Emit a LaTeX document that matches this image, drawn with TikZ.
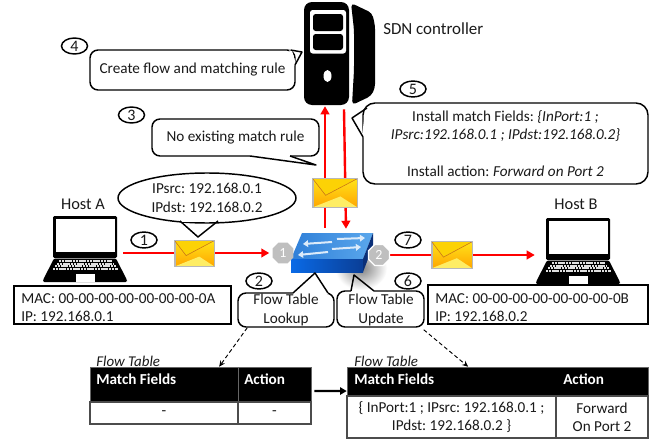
\documentclass[tikz,border=0pt]{standalone}
\usepackage{fontspec}
\setmainfont{Carlito}
\usetikzlibrary{arrows.meta,shapes.geometric,fit,calc,shadings}
\pgfdeclarelayer{bg}
\pgfsetlayers{bg,main}
\definecolor{txt}{HTML}{1A1A1A}
\definecolor{redl}{HTML}{FF0000}
\tikzset{
  base/.style={font=\fontsize{11.4}{13.75}\selectfont,text=txt,inner sep=0pt},
  lab/.style={base,align=center},
  boxn/.style={base,draw=black,line width=1.1pt,fill=white},
  bubble/.style={boxn,rounded corners=6pt},
  stepno/.style={base,font=\fontsize{12}{14}\selectfont,draw=black,line width=1.1pt,ellipse,fill=white,minimum width=19.5pt,minimum height=12pt},
  redarrow/.style={draw=redl,line width=1.8pt,-{Triangle[length=6pt,width=6.5pt]}},
  dashedarrow/.style={draw=black,line width=.7pt,densely dashed,-{Stealth[length=4.5pt,width=4pt]}},
  portn/.style={regular polygon,regular polygon sides=8,minimum size=17pt,inner sep=0pt,fill=black!25,text=white,font=\fontsize{10.5}{12}\selectfont},
  envn/.style={draw=black!28,line width=.5pt,top color=yellow!75!orange!90,bottom color=orange!70!yellow,inner sep=0pt},
  cellhead/.style={fill=black,draw=black!60,line width=.6pt,inner sep=0pt},
  cellbody/.style={fill=white,draw=black!70,line width=.8pt,inner sep=0pt},
  headtext/.style={base,text=white,font=\fontsize{11.4}{13}\selectfont\bfseries},
  tabletitle/.style={base,font=\fontsize{11.2}{13}\selectfont\itshape},
  swarrow/.style={draw=swwhite,line width=1.5pt,-{Triangle[length=3.8pt,width=5pt]}}
}
\definecolor{swwhite}{HTML}{DCEBFA}
\definecolor{swTopA}{HTML}{2F7FD8}
\definecolor{swTopB}{HTML}{5AA7EC}
\definecolor{swFrontA}{HTML}{0A6AE6}
\definecolor{swFrontB}{HTML}{0A3E96}
\definecolor{swSide}{HTML}{0A2F78}
\newcommand{\tailshape}[3]{%
  \draw[white,line width=1.9pt] (#1)--(#3);
  \draw[black,line width=1.1pt,line join=round] (#1)--(#2)--(#3);}
\newcommand{\laptop}[2]{%
  \begin{scope}[shift={(#1,#2)}]
    \fill[black,rounded corners=1pt] (53,216) rectangle (117,258);
    \fill[white] (56,218.5) rectangle (115,251.5);
    \fill[black,rounded corners=1pt] (54,258.5)--(116,258.5)--(127,280)--(127,282)--(43,282)--(43,280)--cycle;
    \foreach \yy/\xa/\xb in {261/59/112,263.7/57/114,266.4/55/116,269.1/53/118}
      \draw[black!12,line width=1.4pt,dash pattern=on 1.6pt off .5pt] (\xa,\yy)--(\xb,\yy);
    \fill[white] (76,273.5) rectangle (95,281.5);
  \end{scope}}
\newcommand{\envflaps}[1]{%
  \fill[yellow!85!orange!60] (#1.south west)--($(#1.north west)!.62!(#1.south east)$)--(#1.south east)--cycle;
  \fill[yellow!70!orange] (#1.north west)--($(#1.north west)!.58!(#1.south)$)--(#1.north east)--cycle;
  \draw[orange!75!black!90,line width=.4pt] (#1.north west)--($(#1.north west)!.58!(#1.south)$)--(#1.north east);
  \draw[black!28,line width=.5pt] (#1.north west) rectangle (#1.south east);}
\begin{document}
\frenchspacing
\begin{tikzpicture}[x=.75pt,y=-.75pt]
\useasboundingbox (0,0) rectangle (662,439);
\begin{pgfonlayer}{bg}
  \fill[white] (0,0) rectangle (662,439);
\end{pgfonlayer}

% ---- SDN controller
\node[fit={(304,2)(375,105)},inner sep=0pt] (server) {};
\fill[black,rounded corners=3pt] (351,3)--(372,13)--(375,25)--(375,88)--(371,96)--(352,105)--(354,70)--(354,30)--cycle;
\fill[black,rounded corners=6pt] (304,2) rectangle (349,105);
\fill[white,rounded corners=2pt] (310,10) rectangle (346,53.5);
\fill[black,rounded corners=2pt] (313,14) rectangle (343,31);
\fill[black,rounded corners=2pt] (313,34) rectangle (343,50);
\fill[white] (327.5,76) ellipse [x radius=4,y radius=6];
\node[base,anchor=base west,font=\fontsize{12.7}{14}\selectfont] (sdn) at (383,34) {SDN controller};

% ---- hosts
\node[fit={(43,216)(123,282)},inner sep=0pt] (hostA) {};
\laptop{0}{0}
\node[fit={(535,218)(619,284)},inner sep=0pt] (hostB) {};
\laptop{493}{2}
\node[base,font=\fontsize{12.3}{14}\selectfont] (hostAlab) at (83,204) {Host A};
\node[base,font=\fontsize{12.3}{14}\selectfont] (hostBlab) at (576,204) {Host B};

\node[boxn,fit={(14,286)(231,324)}] (macA) {};
\node[lab,anchor=west,align=left] (macAtxt) at (21,307.5) {MAC: 00-00-00-00-00-00-00-0A\\IP: 192.168.0.1};
\node[boxn,fit={(428,285)(648,324)}] (macB) {};
\node[lab,anchor=west,align=left] (macBtxt) at (435,307.5) {MAC: 00-00-00-00-00-00-00-0B\\IP: 192.168.0.2};

% ---- switch
\shade[inner color=black!50,outer color=white] (361,268) ellipse [x radius=26,y radius=22];
\node[fit={(291,233)(373,271)},inner sep=0pt] (switch) {};
\shade[left color=swTopA,right color=swTopB] (302,233)--(373,233)--(363,259)--(291,259)--cycle;
\shade[left color=swFrontA,right color=swFrontB] (291,259)--(363,259)--(363,272)--(291,272)--cycle;
\fill[swSide] (363,259)--(373,233)--(373,246)--(363,272)--cycle;
\draw[swarrow] (332,242)--(303,244);
\draw[swarrow] (337,239)--(365,238);
\draw[swarrow] (328,252)--(298,255);
\draw[swarrow] (332,249)--(361,247);
\node[portn] (port1) at (283,253) {1};
\node[portn,draw=white,line width=1pt] (port2) at (379,255) {2};

% ---- envelopes
\node[envn,minimum width=29.5pt,minimum height=19pt] (envA) at (194.5,253.5) {};
\envflaps{envA}
\node[envn,minimum width=33pt,minimum height=21pt] (envC) at (335,193) {};
\envflaps{envC}
\node[envn,minimum width=30pt,minimum height=19.5pt] (envB) at (452,255) {};
\envflaps{envB}

% ---- red connectors
\begin{pgfonlayer}{bg}
  \draw[redarrow,shorten >=2.25pt] (hostA.east |- port1.west) -- (port1.west);
  \draw[redarrow] (port2.east) -- (hostB.west |- port2.east);
  \draw[redarrow] ([xshift=-5.25pt,yshift=3.75pt]switch.north) -- ([xshift=-10.875pt,yshift=-.75pt]server.south);
  \draw[redarrow] ([xshift=3.375pt,yshift=-3pt]server.south) -- ([xshift=10.5pt,yshift=3pt]switch.north);
\end{pgfonlayer}

% ---- callouts
\node[bubble,fit={(90,50)(295,90)}] (c4) {};
\tailshape{290.5,50}{302,52}{295,65}
\node[lab] (c4t) at (c4) {Create flow and matching rule};
\node[bubble,fit={(152,119)(319,156)}] (c3) {};
\tailshape{250,156}{316,165}{290,156}
\node[lab] (c3t) at (c3) {No existing match rule};
\node[bubble,rounded corners=9pt,fit={(363,103)(648,184)}] (c5) {};
\tailshape{367,108}{352,118}{363,137}
\node[lab] (c5t) at (c5) {Install match Fields: \textit{\{InPort:1 ;}\\\textit{IPsrc:192.168.0.1 ; IPdst:192.168.0.2\}}\\[13.75pt]Install action: \textit{Forward on Port 2}};
\node[boxn,ellipse,minimum width=133.5pt,minimum height=37.5pt,inner sep=0pt] (ell) at (207,198) {};
\tailshape{180,221}{198,237}{218,221}
\node[lab] (ellt) at (ell) {IPsrc: 192.168.0.1\\IPdst: 192.168.0.2};
\node[bubble,fit={(238,293)(334,327)}] (lookup) {};
\tailshape{293,293}{315,273}{328,293}
\node[lab] (lookupt) at (lookup) {Flow Table\\Lookup};
\node[bubble,fit={(337,291)(424,327)}] (update) {};
\tailshape{351,291}{354,275}{374,291}
\node[lab] (updatet) at (381,310) {Flow Table\\Update};

% ---- step numbers
\node[stepno] (n4) at (74.5,46) {4};
\node[stepno] (n3) at (131.5,115) {3};
\node[stepno] (n5) at (413,89) {5};
\node[stepno] (n1) at (144,240) {1};
\node[stepno] (n2) at (259,281) {2};
\node[stepno] (n7) at (408,240) {7};
\node[stepno] (n6) at (408,281) {6};

% ---- flow table 1
\node[fit={(90,367)(311,424)},inner sep=0pt] (t1) {};
\node[cellhead,fit={(90,367)(238,402)}] (t1a) {};
\node[cellhead,fit={(238,367)(311,402)}] (t1b) {};
\node[cellbody,fit={(90,402)(238,424)}] (t1c) {};
\node[cellbody,fit={(238,402)(311,424)}] (t1d) {};
\node[lab] (t1ct) at (t1c) {-};
\node[lab] (t1dt) at (t1d) {-};
\node[headtext,anchor=base west] (t1ah) at (96,384) {Match Fields};
\node[headtext,anchor=base west] (t1bh) at (244,384) {Action};
\node[tabletitle,anchor=base west] (t1t) at (96,366) {Flow Table};

% ---- flow table 2
\node[fit={(347,367)(648,438)},inner sep=0pt] (t2) {};
\node[cellhead,fit={(347,367)(648,396)}] (t2a) {};
\node[cellbody,fit={(347,396)(556,438)}] (t2c) {};
\node[cellbody,fit={(556,396)(648,438)}] (t2d) {};
\node[lab] (t2ct) at (t2c) {\{ InPort:1 ; IPsrc: 192.168.0.1 ;\\IPdst: 192.168.0.2 \}};
\node[lab] (t2dt) at (t2d) {Forward\\On Port 2};
\node[headtext,anchor=base west] (t2ah) at (354,384.5) {Match Fields};
\node[headtext,anchor=base west] (t2bh) at (563,384.5) {Action};
\node[tabletitle,anchor=base west] (t2t) at (354,366) {Flow Table};

% ---- table connectors
\draw[black,line width=1.8pt,-{Triangle[length=5pt,width=5.5pt]}] ([xshift=2.25pt,yshift=3.4pt]t1.east) -- ([yshift=8.6pt]t2.west);
\draw[dashedarrow] ([xshift=7.5pt]lookup.south west) -- ([xshift=14pt]t1.north);
\draw[dashedarrow] ([xshift=-.75pt,yshift=-1.5pt]update.south east) -- ([xshift=-22pt]t2.north);
\end{tikzpicture}
\end{document}
